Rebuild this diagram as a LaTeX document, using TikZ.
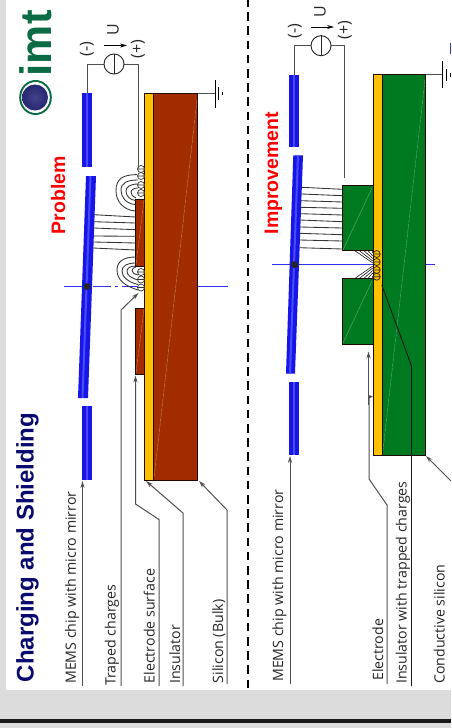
\documentclass[tikz,border=0pt]{standalone}
\usepackage{fontspec}
\setmainfont{Open Sans}
\newfontfamily\headfont{Liberation Sans}[BoldFont={Liberation Sans Bold}]
\usetikzlibrary{arrows.meta}
\definecolor{bggray}{HTML}{DCDCDC}
\definecolor{mirrorblue}{HTML}{1616E6}
\definecolor{mirrorlight}{HTML}{4A4AFF}
\definecolor{strip}{HTML}{FFC000}
\definecolor{brick}{HTML}{A02C00}
\definecolor{brickline}{HTML}{C87850}
\definecolor{forest}{HTML}{007A20}
\definecolor{forestline}{HTML}{50A868}
\definecolor{leadgray}{HTML}{505050}
\definecolor{logogreen}{HTML}{0A6B45}
\definecolor{titlenavy}{HTML}{0A0A6E}
\definecolor{axisblue}{HTML}{3030F0}
\tikzset{
  x=1pt,y=-1pt,
  lbl/.style={rotate=90,anchor=base west,inner sep=0pt,text=black!85,font=\fontsize{14.2}{15}\selectfont},
  head/.style={rotate=90,anchor=base west,inner sep=0pt,font=\headfont\bfseries\fontsize{#1}{#1}\selectfont},
  sym/.style={rotate=90,inner sep=0pt,text=black!85,font=\fontsize{16}{16}\selectfont},
  leader/.style={draw=leadgray,line width=1pt},
  leadarrow/.style={leader,-{Stealth[length=7pt,width=4.2pt]}},
  wire/.style={draw=leadgray,line width=1pt},
  body/.style={draw=black!80!brick,line width=.9pt},
  fieldl/.style={draw=black!80,line width=.85pt},
  chg/.style={draw=black!80,line width=.7pt},
  srcarrow/.style={draw=black,line width=.8pt,-{Stealth[length=7pt,width=4pt]}},
}
\begin{document}
\begin{tikzpicture}
\useasboundingbox (0,0) rectangle (451,728);
\clip (0,0) rectangle (451,728);
\fill[white] (0,0) rectangle (451,728);
\fill[bggray] (0,0) rectangle (6,690);
\fill[bggray] (0,690) rectangle (451,728);
\fill[black!90] (0,719) rectangle (451,722.5);
% divider
\draw[line width=2pt,dash pattern=on 8.5pt off 5.7pt] (248,-2) -- (248,690);
% logo
\fill[logogreen] (35.5,97.5) ellipse (16.3 and 17.5);
\fill[white!95!gray] (35.5,97.5) ellipse (14.3 and 15.5);
\shade[inner color=black!20!white!55!blue!60!black,outer color=blue!35!black!85!white,draw=none] (35,97.5) circle (13);
\node[head=44,text=logogreen] (logo) at (51,76.5) {imt};
% titles
\node[head=24,text=titlenavy] (title) at (33.5,682.5) {Charging and Shielding};
\node[head=19.5,text=red] (problem) at (65,234.5) {Problem};
\node[head=19.5,text=red] (improve) at (278,234.5) {Improvement};
% ===== left panel
\draw[axisblue,line width=1pt,dash pattern=on 18pt off 4pt on 3pt off 4pt] (64,286.5) -- (228,286.5);
\fill[mirrorblue] (82,93) rectangle (92,167);
\fill[mirrorlight] (85.5,93) rectangle (87.5,167);
\fill[mirrorblue] (82,406) rectangle (92,480);
\fill[mirrorlight] (85.5,406) rectangle (87.5,480);
\fill[mirrorblue] (86,176) -- (96,176) -- (88,398) -- (78,398) -- cycle;
\fill[mirrorlight] (89.5,176) -- (91.5,176) -- (83.5,398) -- (81.5,398) -- cycle;
\fill[black!85] (87,286.5) circle (3.5);
% substrate
\draw[body,fill=brick] (153.5,93.5) rectangle (197.5,480);
\draw[body,fill=strip] (144.5,93.5) rectangle (153.5,480);
\draw[brickline,line width=.5pt,dash pattern=on 4pt off 1pt] (197,100) -- (154,478);
\draw[body,fill=brick] (135.5,199) rectangle (144.5,266);
\draw[body,fill=brick] (135.5,308) rectangle (144.5,374);
\draw[brickline,line width=.5pt,dash pattern=on 4pt off 1pt] (144,200) -- (136,265);
\draw[brickline,line width=.5pt,dash pattern=on 4pt off 1pt] (144,309) -- (136,373);
\draw[axisblue,line width=1pt,dash pattern=on 18pt off 4pt on 3pt off 4pt] (198,286.5) -- (228,286.5);
% field lines
\draw[fieldl] (94,214.7)--(135.5,217) (94,221.7)--(135.5,223) (94,228)--(135.5,229.7) (93.5,236)--(135.5,236.3) (93.5,242)--(135.5,243) (93,248)--(135.5,250);
% loops upper
\draw[fieldl] (135.5,211) .. controls (123,210) and (116,201) .. (116,191) .. controls (116,178) and (123,175) .. (137,174.5);
\draw[fieldl] (135.5,204.5) .. controls (126,204) and (121,197) .. (121,190) .. controls (121,183) and (127,180) .. (138,180);
\draw[fieldl] (135.5,200.5) .. controls (130,200) and (126,196) .. (126,191) .. controls (126,187) and (130,184) .. (138,184);
\draw[fieldl] (136,198) .. controls (133,197) and (131,195) .. (131,192) .. controls (131,190) and (134,188) .. (138,188);
% loops lower
\draw[fieldl] (135.5,257) .. controls (123,257) and (117,262) .. (117,270) .. controls (117,280) and (125,286) .. (138,290);
\draw[fieldl] (135.5,263) .. controls (127,263) and (122,266) .. (122,271) .. controls (122,277) and (128,282) .. (138,284.5);
\draw[fieldl] (135.5,266) .. controls (130,266) and (127,268) .. (127,271.5) .. controls (127,275) and (131,278) .. (138,280);
\draw[fieldl] (136,267) .. controls (134,267) and (132,269) .. (132,270.5) .. controls (132,272.5) and (134,274) .. (138,275);
\foreach \y in {169,176,185,193,272,279.5,287.5}
  \draw[chg,fill=white] (141,\y) circle (3.5) (137.5,\y) -- (144.5,\y);
% source left
\coordinate (lsrcw) at (104,64);\coordinate (lsrce) at (124,64);
\coordinate (lchip) at (87,93);\coordinate (lplus) at (138,168);
\draw[wire] (lchip) -- (87,64) -- (lsrcw);
\draw[wire] (lsrce) -- (138,64) -- (lplus);
\node[draw=black!85,line width=.9pt,circle,minimum size=20pt,inner sep=0pt] (lsrc) at (114,64) {};
\draw[black!85,line width=.8pt] (lsrc.north) -- (lsrc.south);
\coordinate (larra) at (104,45.5);\coordinate (larrb) at (127,45.5);
\draw[srcarrow] (larra) -- (larrb);
\node[sym] (lminus) at (87,49) {(-)};
\node[sym] (lpos) at (138,49) {(+)};
\node[sym] (lu) at (113,30) {U};
% ground left
\coordinate (lg) at (215,93.5);
\draw[leader] (197.5,93.5) -- (lg);
\draw[black,line width=1pt] (215,79.5)--(215,107.5) (218.5,87)--(218.5,100) (222.5,92.3)--(222.5,95);
% labels left
\node[lbl] (a1) at (75.8,684) {MEMS chip with micro mirror};
\node[lbl] (a2) at (115.5,686) {Traped charges};
\node[lbl] (a3) at (154.5,683.5) {Electrode surface};
\node[lbl] (a4) at (180,684) {Insulator};
\node[lbl] (a5) at (223,683.5) {Silicon (Bulk)};
\coordinate (a1s) at (82.5,686);\coordinate (a1t) at (82.5,481);
\draw[leadarrow] (a1s) -- (a1t);
\coordinate (a2s) at (121,686);\coordinate (a2k) at (121,310);\coordinate (a2t) at (138.5,293);
\draw[leadarrow] (a2s) -- (a2k) -- (a2t);
\coordinate (a3s) at (159,686);\coordinate (a3k) at (159,519.5);\coordinate (a3m) at (135.5,504);\coordinate (a3t) at (135.5,375.5);
\draw[leadarrow] (a3s) -- (a3k) -- (a3m) -- (a3t);
\coordinate (a4s) at (183,686);\coordinate (a4k) at (183,513);\coordinate (a4t) at (146,481);
\draw[leadarrow] (a4s) -- (a4k) -- (a4t);
\coordinate (a5s) at (227,684);\coordinate (a5k) at (227,510);\coordinate (a5t) at (199,481);
\draw[leadarrow] (a5s) -- (a5k) -- (a5t);
% ===== right panel
\draw[axisblue,line width=1pt] (272,264.7) -- (373,264.7);
\draw[axisblue,line width=1pt] (425,264.7) -- (435,264.7);
\fill[mirrorblue] (289.3,74.5) rectangle (299,146.7);
\fill[mirrorlight] (293,74.5) rectangle (295,146.7);
\fill[mirrorblue] (289.3,382) rectangle (299,455);
\fill[mirrorlight] (293,382) rectangle (295,455);
\fill[mirrorblue] (293.3,155.3) -- (303,155.3) -- (295,373.7) -- (286,373.7) -- cycle;
\fill[mirrorlight] (297,155.3) -- (299,155.3) -- (291,373.7) -- (289,373.7) -- cycle;
\fill[black!85] (294.5,264.7) circle (3.5);
% substrate right
\draw[body,fill=forest] (382,74.7) rectangle (425.5,455);
\draw[body,fill=strip] (373.3,74.7) rectangle (382,455);
\draw[forestline,line width=.5pt,dash pattern=on 4pt off 1pt] (425,80) -- (383,450);
\draw[body,fill=forest] (342.3,185) rectangle (373.3,250.3);
\draw[body,fill=forest] (342.3,278.7) rectangle (373.3,344.3);
\draw[forestline,line width=.5pt] (372,188) -- (343,250);
\draw[forestline,line width=.5pt] (372,281) -- (343,343);
% field lines right
\draw[fieldl] (301.7,187.3)--(342.3,189.3) (301.7,194)--(342.3,195.7) (301,200.7)--(342.3,202) (300.7,207.3)--(342.3,208.3) (300.7,213.7)--(342.3,215) (300,220)--(342.3,221.7) (300,227)--(342.3,228) (299.7,233.3)--(342.3,234.7) (299.3,240)--(342.3,241) (299.3,247.7)--(342.3,249);
% fans
\foreach \a/\b in {355/263,359.5/261,364/258.5,368/256,372/253}
  \draw[black!90,line width=.6pt] (\a,250.8) -- (372.8,\b);
\foreach \a/\b in {355/266,359.5/268,364/270.5,368/273,372/276}
  \draw[black!90,line width=.6pt] (\a,278.3) -- (372.8,\b);
\foreach \y in {254,262,270,276.7}
  \draw[black!85,line width=.7pt] (376.7,\y) circle (3.5) (373.2,\y) -- (380.2,\y);
% source right
\coordinate (rsrcw) at (311,45.7);\coordinate (rsrce) at (331,45.7);
\coordinate (rchip) at (294,74.5);\coordinate (rplus) at (344,178);
\draw[wire] (rchip) -- (294,45.7) -- (rsrcw);
\draw[wire] (rsrce) -- (344,45.7) -- (rplus);
\node[draw=black!85,line width=.9pt,circle,minimum size=20pt,inner sep=0pt] (rsrc) at (321,45.7) {};
\draw[black!85,line width=.8pt] (rsrc.north) -- (rsrc.south);
\coordinate (rarra) at (311,27);\coordinate (rarrb) at (334,27);
\draw[srcarrow] (rarra) -- (rarrb);
\node[sym] (rminus) at (295,31) {(-)};
\node[sym] (rpos) at (345,30) {(+)};
\node[sym] (ru) at (320,12) {U};
% ground right
\coordinate (rg) at (442,74.7);
\draw[leader] (425.5,74.7) -- (rg);
\draw[black,line width=1pt] (442,61)--(442,88) (446,69)--(446,81) (450,73)--(450,77);
\fill[blue!55!gray] (450,43) rectangle (451,54);
% labels right
\node[lbl] (b1) at (283,682) {MEMS chip with micro mirror};
\node[lbl] (b2) at (383,681) {Electrode};
\node[lbl] (b3) at (406.5,684) {Insulator with trapped charges};
\node[lbl] (b4) at (444.5,684) {Conductive silicon};
\coordinate (b1s) at (290,684);\coordinate (b1t) at (290,456);
\draw[leadarrow] (b1s) -- (b1t);
\coordinate (b2s) at (387,684);\coordinate (b2k) at (387,505);\coordinate (b2m) at (369,479);\coordinate (b2n) at (369,396.7);\coordinate (b2t) at (373,396.7);
\draw[leadarrow,-{Stealth[length=5pt,width=4pt]}] (b2s) -- (b2k) -- (b2m) -- (b2n) -- (b2t);
\coordinate (b5s) at (368.5,405);\coordinate (b5t) at (368.5,351.5);
\draw[leadarrow] (b5s) -- (b5t);
\draw[black!90,line width=.9pt] (411.5,686) -- (411.5,366) -- (381.8,285);
\coordinate (b4k) at (458,488);\coordinate (b4t) at (426,456);
\draw[leadarrow] (b4k) -- (b4t);
\end{tikzpicture}
\end{document}
